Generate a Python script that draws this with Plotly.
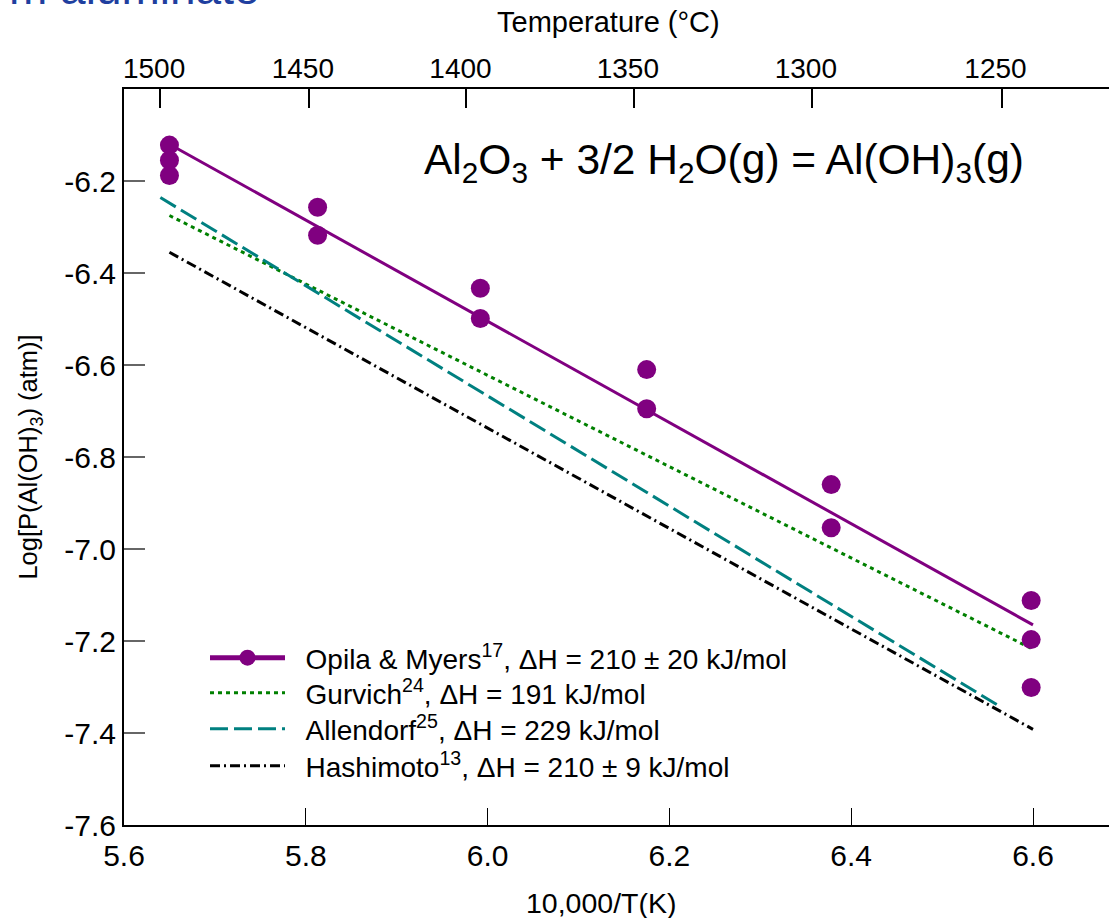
import plotly.graph_objects as go

# ---------------- data ----------------
obs_x = [5.65, 5.65, 5.65, 5.813, 5.813, 5.992, 5.992, 6.175, 6.175, 6.378, 6.378, 6.598, 6.598, 6.598]
obs_y = [-6.122, -6.155, -6.188, -6.257, -6.318, -6.433, -6.499, -6.610, -6.695, -6.860, -6.954, -7.112, -7.197, -7.301]

opila_x = [5.65, 6.60]
opila_y = [-6.120, -7.165]
gurvich_x = [5.65, 6.60]
gurvich_y = [-6.275, -7.218]
allendorf_x = [5.640, 6.565]
allendorf_y = [-6.236, -7.344]
hashimoto_x = [5.65, 6.60]
hashimoto_y = [-6.355, -7.392]

x_ticks = [5.6, 5.8, 6.0, 6.2, 6.4, 6.6]
x_ticklabels = ["5.6", "5.8", "6.0", "6.2", "6.4", "6.6"]
y_ticks = [-7.6, -7.4, -7.2, -7.0, -6.8, -6.6, -6.4, -6.2]
y_ticklabels = ["-7.6", "-7.4", "-7.2", "-7.0", "-6.8", "-6.6", "-6.4", "-6.2"]
temp_C = [1500, 1450, 1400, 1350, 1300, 1250]
temp_labels = ["1500", "1450", "1400", "1350", "1300", "1250"]

legend_names = [
    "Opila & Myers<sup>17</sup>, ΔH = 210 ± 20 kJ/mol",
    "Gurvich<sup>24</sup>, ΔH = 191 kJ/mol",
    "Allendorf<sup>25</sup>, ΔH = 229 kJ/mol",
    "Hashimoto<sup>13</sup>, ΔH = 210 ± 9 kJ/mol",
]

PURPLE = "#800080"
GREEN = "#008000"
TEAL = "#008080"
FONT = "Liberation Sans, Arial, sans-serif"
DOT = "4px,4px"
LDASH = "18px,6px"
DASHDOT = "10px,4px,2px,4px"

# ---------------- layout geometry (pixels) ----------------
W, H = 1109, 918
ML, MR, MT, MB = 124, 0, 89, 93
PW, PH = W - ML - MR, H - MT - MB
XMIN = 5.6
XMAX = XMIN + PW / 909.0
YMIN, YMAX = -7.6, -6.0


def px(xp):
    return (xp - ML) / PW


def py(yp):
    return (H - MB - yp) / PH


fig = go.Figure()

# fitted lines
fig.add_trace(go.Scatter(x=opila_x, y=opila_y, mode="lines",
                         line=dict(color=PURPLE, width=3), showlegend=False))
fig.add_trace(go.Scatter(x=gurvich_x, y=gurvich_y, mode="lines",
                         line=dict(color=GREEN, width=3, dash=DOT), showlegend=False))
fig.add_trace(go.Scatter(x=allendorf_x, y=allendorf_y, mode="lines",
                         line=dict(color=TEAL, width=3, dash=LDASH), showlegend=False))
fig.add_trace(go.Scatter(x=hashimoto_x, y=hashimoto_y, mode="lines",
                         line=dict(color="black", width=3, dash=DASHDOT), showlegend=False))
# measured points
fig.add_trace(go.Scatter(x=obs_x, y=obs_y, mode="markers",
                         marker=dict(color=PURPLE, size=19), showlegend=False))

# legend entries (one legend per row for exact spacing)
SP = "\u00a0\u00a0"
leg_styles = [
    dict(mode="lines+markers", line=dict(color=PURPLE, width=5), marker=dict(color=PURPLE, size=16)),
    dict(mode="lines", line=dict(color=GREEN, width=3, dash=DOT)),
    dict(mode="lines", line=dict(color=TEAL, width=3, dash=LDASH)),
    dict(mode="lines", line=dict(color="black", width=3, dash=DASHDOT)),
]
leg_ids = ["legend", "legend2", "legend3", "legend4"]
leg_rows = [658, 693, 729, 766]
for name, st, lid in zip(legend_names, leg_styles, leg_ids):
    fig.add_trace(go.Scatter(x=[None], y=[None], name=SP + name, legend=lid, showlegend=True, **st))

# invisible trace to activate top axis
fig.add_trace(go.Scatter(x=[None], y=[None], xaxis="x2", showlegend=False, hoverinfo="skip"))

temp_vals = [10000.0 / (t + 273.15) for t in temp_C]

legend_common = dict(xanchor="left", yanchor="middle", bgcolor="rgba(0,0,0,0)", borderwidth=0,
                     font=dict(size=28), itemwidth=75)

fig.update_layout(
    width=W, height=H,
    margin=dict(l=ML, r=MR, t=MT, b=MB, pad=0),
    paper_bgcolor="white", plot_bgcolor="white",
    font=dict(family=FONT, color="black", size=28),
    xaxis=dict(range=[XMIN, XMAX], tickvals=x_ticks, ticktext=x_ticklabels,
               ticks="inside", ticklen=17, tickwidth=1, tickcolor="black",
               showline=True, linecolor="black", linewidth=2, showgrid=False, zeroline=False,
               tickfont=dict(size=30), ticklabelstandoff=3),
    xaxis2=dict(range=[XMIN, XMAX], overlaying="x", side="top", anchor="y",
                tickvals=temp_vals, ticktext=temp_labels,
                ticks="inside", ticklen=19, tickwidth=2, tickcolor="black",
                showline=True, linecolor="black", linewidth=2, showgrid=False, zeroline=False,
                tickfont=dict(size=28), ticklabelstandoff=-2, ticklabelshift=-6),
    yaxis=dict(range=[YMIN, YMAX], tickvals=y_ticks, ticktext=y_ticklabels,
               ticks="inside", ticklen=21, tickwidth=2, tickcolor="#666666",
               showline=True, linecolor="black", linewidth=2, showgrid=False, zeroline=False,
               tickfont=dict(size=30),
               title=dict(text="Log[P(Al(OH)<sub>3</sub>) (atm)]", font=dict(size=25.5), standoff=19)),
    showlegend=True,
)
for lid, row in zip(leg_ids, leg_rows):
    fig.update_layout({lid: dict(x=px(205), y=py(row), **legend_common)})

fig.add_annotation(text="Al<sub>2</sub>O<sub>3</sub> + 3/2 H<sub>2</sub>O(g) = Al(OH)<sub>3</sub>(g)",
                   x=px(724), y=py(163), xref="paper", yref="paper",
                   showarrow=False, font=dict(size=42.5), xanchor="center", yanchor="middle")
fig.add_annotation(text="Temperature (°C)", x=px(608), y=py(22), xref="paper", yref="paper",
                   showarrow=False, font=dict(size=29), xanchor="center", yanchor="middle")
fig.add_annotation(text="10,000/T(K)", x=px(601), y=py(903), xref="paper", yref="paper",
                   showarrow=False, font=dict(size=28.5), xanchor="center", yanchor="middle")
fig.add_annotation(text="m aluminate", x=px(262), y=py(-12), xref="paper", yref="paper",
                   showarrow=False, font=dict(size=46, color="#1f3f9f"), xanchor="right", yanchor="middle")

fig.write_html("out.html")
